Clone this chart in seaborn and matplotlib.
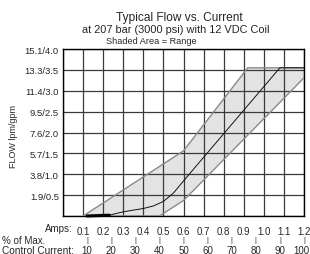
import numpy as np
import matplotlib
matplotlib.use('Agg')
import matplotlib.pyplot as plt
import matplotlib.transforms as mtransforms
import seaborn as sns

# 数据 (amps / gpm)
amps_upper = [0.1, 0.6, 0.92, 1.2]
flow_upper = [0.0, 1.56, 3.55, 3.55]
amps_mid = [0.12, 0.23, 0.3, 0.4, 0.45, 0.5, 0.55, 0.6, 1.08, 1.2]
flow_mid = [0.0, 0.02, 0.1, 0.18, 0.24, 0.35, 0.55, 0.84, 3.55, 3.55]
amps_lower = [0.1, 0.48, 0.6, 1.2]
flow_lower = [0.0, 0.0, 0.37, 3.31]

amp_ticks = [0.0, 0.1, 0.2, 0.3, 0.4, 0.5, 0.6, 0.7, 0.8, 0.9, 1.0, 1.1, 1.2]
amp_labels = ['', '0.1', '0.2', '0.3', '0.4', '0.5', '0.6', '0.7', '0.8', '0.9', '1.0', '1.1', '1.2']
flow_ticks = [0.0, 0.5, 1.0, 1.5, 2.0, 2.5, 3.0, 3.5, 4.0]
flow_labels = ['', '1.9/0.5', '3.8/1.0', '5.7/1.5', '7.6/2.0', '9.5/2.5', '11.4/3.0', '13.3/3.5', '15.1/4.0']
pct_values = [10, 20, 30, 40, 50, 60, 70, 80, 90, 100]
max_amps = 1.2

sns.set_theme(style='white')
plt.rcParams['font.family'] = ['Liberation Sans', 'DejaVu Sans']

fig = plt.figure(figsize=(3.1, 2.55), dpi=100)
ax = fig.add_axes([63 / 310, 38 / 255, 241 / 310, 167 / 255])

# 阴影范围
poly_x = np.concatenate([amps_upper, amps_lower[::-1]])
poly_y = np.concatenate([flow_upper, flow_lower[::-1]])
ax.fill(poly_x, poly_y, color='#e3e3e3', zorder=1, lw=0)

# 网格
for t in amp_ticks:
    ax.axvline(t, color='#3a3a3a', lw=0.9, zorder=2)
for t in flow_ticks:
    ax.axhline(t, color='#3a3a3a', lw=0.9, zorder=2)

sns.lineplot(x=amps_upper, y=flow_upper, ax=ax, color='#8a8a8a', lw=1.0, zorder=3, sort=False)
sns.lineplot(x=amps_lower, y=flow_lower, ax=ax, color='#8a8a8a', lw=1.0, zorder=3, sort=False)
sns.lineplot(x=amps_mid, y=flow_mid, ax=ax, color='#111111', lw=0.7, zorder=4, sort=False)
# 底部粗线
ax.plot(amps_mid[:2], flow_mid[:2], color='black', lw=2.2, zorder=5, clip_on=False)

ax.set_xlim(0, 1.2)
ax.set_ylim(0, 4.0)
ax.set_xticks(amp_ticks)
ax.set_xticklabels(amp_labels, fontsize=7)
ax.set_yticks(flow_ticks)
ax.set_yticklabels(flow_labels, fontsize=6.8)
ax.tick_params(axis='x', length=0, pad=7)
ax.tick_params(axis='y', length=0, pad=3)
ax.set_xlabel('')
ax.set_ylabel('')
for s in ax.spines.values():
    s.set_color('black')
    s.set_linewidth(1.0)

trans = mtransforms.blended_transform_factory(ax.transData, fig.transFigure)
fig.text(73 / 310, 1 - 229 / 255, 'Amps:', fontsize=7, ha='right', va='center')
fig.text(2 / 310, 1 - 241 / 255, '% of Max.', fontsize=7, ha='left', va='center')
fig.text(2 / 310, 1 - 251 / 255, 'Control Current:', fontsize=7.3, ha='left', va='center')
for p in pct_values:
    xpos = p / 100 * max_amps
    ax.text(xpos, 1 - 241 / 255, '|', transform=trans, fontsize=5.5, ha='center', va='center')
    if p == 100:
        # 最右侧标签贴边
        fig.text(309 / 310, 1 - 251 / 255, str(p), fontsize=7, ha='right', va='center')
    else:
        ax.text(xpos, 1 - 251 / 255, str(p), transform=trans, fontsize=7, ha='center', va='center')

fig.text(179 / 310, 1 - 18 / 255, 'Typical Flow vs. Current', fontsize=8.6, ha='center', va='center')
fig.text(176 / 310, 1 - 30 / 255, 'at 207 bar (3000 psi) with 12 VDC Coil', fontsize=7.9, ha='center', va='center')
fig.text(151 / 310, 1 - 42 / 255, 'Shaded Area = Range', fontsize=6.6, ha='center', va='center')
fig.text(14 / 310, 1 - 137 / 255, 'FLOW lpm/gpm', fontsize=6.5, rotation=90, ha='center', va='center')

fig.savefig('out.png', dpi=100, facecolor='white')
